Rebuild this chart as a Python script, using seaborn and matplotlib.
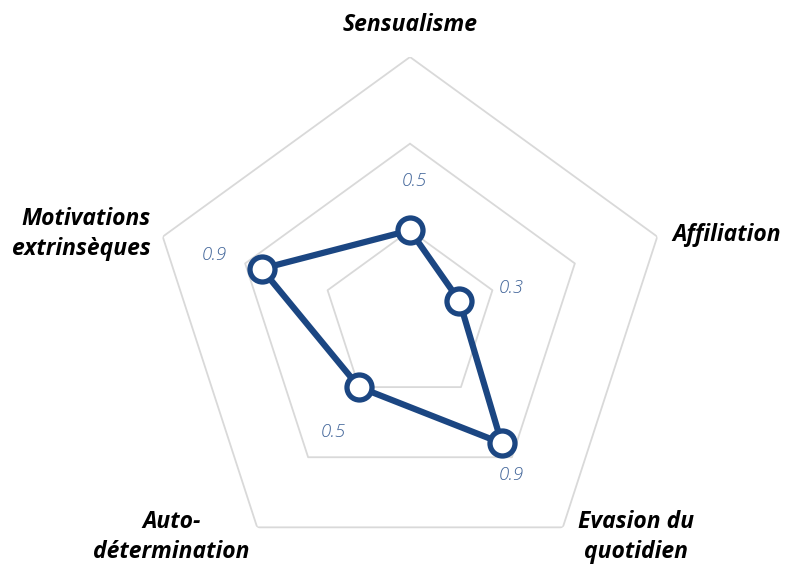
import numpy as np
import matplotlib
matplotlib.use("Agg")
import matplotlib.pyplot as plt
import pandas as pd
import seaborn as sns

categories = ["Sensualisme", "Affiliation", "Evasion du\nquotidien",
              "Auto-\ndétermination", "Motivations\nextrinsèques"]
values = [0.5, 0.3, 0.9, 0.5, 0.9]
grid_levels = [0.5, 1.0, 1.5]

sns.set_style("white")
plt.rcParams['font.family'] = ['Open Sans', 'DejaVu Sans']

line_col = '#1B4682'
label_col = '#3F6398'
grid_col = '#D9D9D9'

n = len(categories)
angles = np.arange(n) * 2 * np.pi / n
df = pd.DataFrame({'angle': np.append(angles, angles[0]),
                   'value': values + values[:1]})

fig = plt.figure(figsize=(7.91, 5.65), dpi=100)
ax = fig.add_axes([150 / 791, -12 / 565, 520 / 791, 520 / 565], projection='polar')
ax.set_theta_offset(np.pi / 2)
ax.set_theta_direction(-1)
ax.set_ylim(0, 1.5)
ax.grid(False)
ax.spines['polar'].set_visible(False)
ax.set_xticks([])
ax.set_yticks([])
ax.patch.set_alpha(0)

# pentagon gridlines
for lv in grid_levels:
    ax.plot(np.append(angles, angles[0]), [lv] * (n + 1), color=grid_col, lw=1.3, zorder=1)

# series
sns.lineplot(data=df, x='angle', y='value', sort=False, color=line_col, lw=4.5, ax=ax,
             estimator=None, zorder=3)
ax.plot(angles, values, 'o', ms=18, mfc='white', mec=line_col, mew=3.8, zorder=4,
        clip_on=False)

# category labels (offset in pixels from outer vertex)
cat_offsets = [(0, 32, 'center'), (15, 2, 'left'), (73, -10, 'center'),
               (-86, -10, 'center'), (-12, 3, 'right')]
for ang, cat, (dx, dy, ha) in zip(angles, categories, cat_offsets):
    ax.annotate(cat, xy=(ang, 1.5), xytext=(dx, dy), textcoords='offset pixels',
                ha=ha, va='center', fontsize=16.5, fontweight='bold', style='italic',
                color='black', linespacing=1.35, annotation_clip=False)

# data labels
val_offsets = [(4, 49), (52, 13), (10, -32), (-26, -45), (-47, 14)]
for ang, v, (dx, dy) in zip(angles, values, val_offsets):
    ax.annotate(f"{v:.1f}", xy=(ang, v), xytext=(dx, dy), textcoords='offset pixels',
                ha='center', va='center', fontsize=13.5, style='italic',
                fontweight='light', color=label_col, annotation_clip=False)

fig.savefig('out.png', dpi=100)
